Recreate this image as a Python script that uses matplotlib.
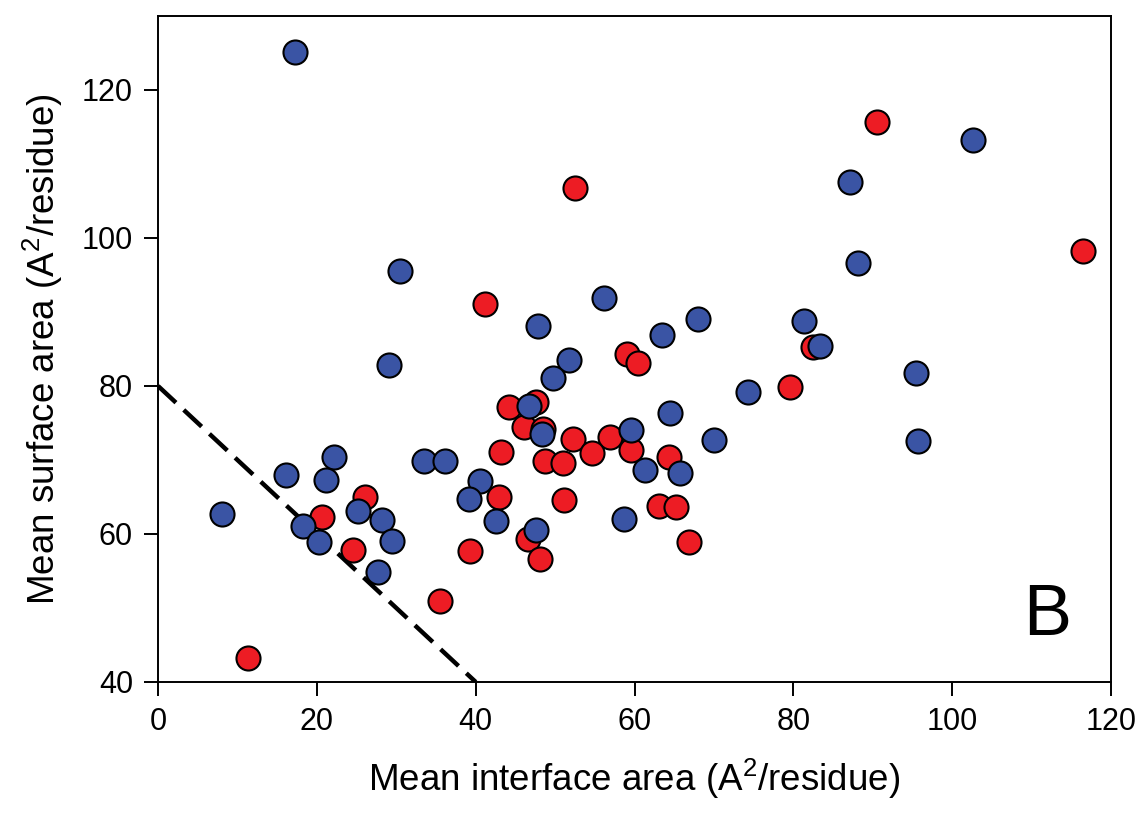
import numpy as np
import matplotlib
matplotlib.use("Agg")
import matplotlib.pyplot as plt

plt.rcParams['font.family'] = ['Liberation Sans', 'DejaVu Sans']
plt.rcParams['mathtext.fontset'] = 'custom'
plt.rcParams['mathtext.rm'] = 'Liberation Sans'

# --- datos ---
rojo_x = [11.3, 20.7, 26.1, 24.5, 35.5, 41.2, 59.1, 60.4, 44.2, 47.6,
          46.1, 48.5, 52.2, 56.9, 59.6, 43.2, 54.7, 48.7, 51.0, 64.3,
          42.9, 51.1, 63.1, 65.2, 46.6, 48.1, 39.3, 66.8, 52.5, 90.5,
          116.5, 82.5, 79.6]
rojo_y = [43.3, 62.3, 65.0, 57.9, 50.9, 91.1, 84.3, 83.1, 77.1, 77.9,
          74.5, 74.2, 72.8, 73.1, 71.3, 71.1, 70.9, 69.9, 69.6, 70.4,
          65.0, 64.6, 63.8, 63.6, 59.3, 56.6, 57.7, 58.9, 106.7, 115.7,
          98.3, 85.3, 79.9]

azul_x = [8.0, 16.1, 22.2, 21.2, 18.2, 20.3, 25.2, 28.2, 29.5, 27.7,
          33.5, 36.1, 56.2, 47.8, 63.5, 68.0, 51.8, 49.7, 46.7, 48.3,
          64.5, 59.6, 70.0, 61.3, 65.7, 40.6, 39.1, 42.5, 58.7, 47.6,
          17.3, 30.5, 29.1, 102.6, 87.1, 88.1, 81.3, 83.4, 74.3, 95.5,
          95.7]
azul_y = [62.7, 68.0, 70.4, 67.3, 61.1, 58.9, 63.1, 61.9, 59.0, 54.9,
          69.9, 69.8, 91.9, 88.1, 86.9, 89.0, 83.5, 81.1, 77.3, 73.5,
          76.4, 74.1, 72.7, 68.6, 68.3, 67.2, 64.7, 61.7, 62.0, 60.5,
          125.1, 95.6, 82.9, 113.2, 107.6, 96.6, 88.8, 85.4, 79.2, 81.7,
          72.6]

linea_x = [0, 40]
linea_y = [80, 40]

# --- grafico ---
fig = plt.figure(figsize=(11.42, 8.15), dpi=100)
ax = fig.add_axes([0.1384, 0.1632, 0.9729 - 0.1384, 0.9804 - 0.1632])

ax.plot(linea_x, linea_y, color='black', lw=3.2, dashes=(5.5, 2.4), zorder=1)
ax.scatter(rojo_x, rojo_y, s=300, c='#ED1C24', edgecolors='black', linewidths=1.5, zorder=2)
ax.scatter(azul_x, azul_y, s=300, c='#3A54A4', edgecolors='black', linewidths=1.5, zorder=3)

ax.set_xlim(0, 120)
ax.set_ylim(40, 130)
ax.set_xticks(np.arange(0, 121, 20))
ax.set_yticks(np.arange(40, 121, 20))
ax.tick_params(direction='out', length=10, width=1.4, labelsize=22, pad=8,
               top=False, right=False)
for s in ax.spines.values():
    s.set_linewidth(1.4)

ax.set_xlabel(r'Mean interface area (A$\mathregular{^2}$/residue)', fontsize=26.5, labelpad=14)
ax.set_ylabel(r'Mean surface area (A$\mathregular{^2}$/residue)', fontsize=26.5, labelpad=12)

ax.text(112, 48.8, 'B', fontsize=52, ha='center', va='center')

fig.savefig('out.png', dpi=100)
